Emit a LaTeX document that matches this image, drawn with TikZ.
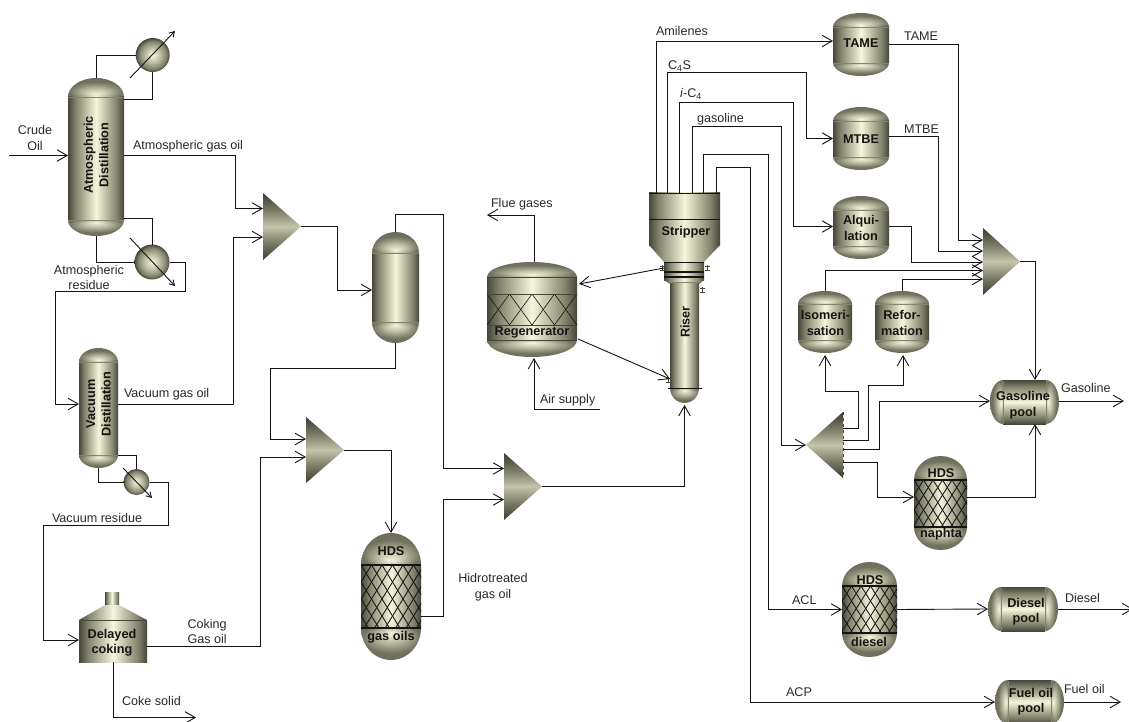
\documentclass[tikz,border=0pt]{standalone}
\usepackage{fontspec}
\setmainfont{Liberation Sans}
\usetikzlibrary{arrows.meta,calc}
\definecolor{mdark}{HTML}{46463A}
\definecolor{mmid}{HTML}{85856F}
\definecolor{msoft}{HTML}{C4C4AA}
\definecolor{mlight}{HTML}{F6F6DC}
\definecolor{ink}{HTML}{141414}
\definecolor{txt}{HTML}{2A2A2A}
\pgfdeclarehorizontalshading{metalH}{100bp}{color(0bp)=(mdark);color(25bp)=(mdark);color(32bp)=(mmid);color(42bp)=(msoft);color(50bp)=(mlight);color(58bp)=(msoft);color(68bp)=(mmid);color(75bp)=(mdark);color(100bp)=(mdark)}
\pgfdeclareverticalshading{metalV}{100bp}{color(0bp)=(mdark);color(25bp)=(mdark);color(33bp)=(mmid);color(43bp)=(msoft);color(50bp)=(mlight);color(57bp)=(msoft);color(67bp)=(mmid);color(75bp)=(mdark);color(100bp)=(mdark)}
\pgfdeclareverticalshading{metalT}{100bp}{color(0bp)=(mdark!85!black);color(25bp)=(mdark!85!black);color(38bp)=(mmid!85!mdark);color(50bp)=(msoft);color(62bp)=(mmid!85!mdark);color(75bp)=(mdark!85!black);color(100bp)=(mdark)}
\pgfdeclareradialshading{domeT}{\pgfpoint{0bp}{-18bp}}{color(0bp)=(mlight);color(10bp)=(msoft);color(24bp)=(mmid!70!mdark);color(43bp)=(mmid!50!mdark);color(50bp)=(mdark)}
\pgfdeclareradialshading{domeB}{\pgfpoint{0bp}{18bp}}{color(0bp)=(mlight);color(10bp)=(msoft);color(24bp)=(mmid!70!mdark);color(43bp)=(mmid!50!mdark);color(50bp)=(mdark)}
\pgfdeclareradialshading{domeL}{\pgfpoint{18bp}{0bp}}{color(0bp)=(mlight);color(10bp)=(msoft);color(24bp)=(mmid!70!mdark);color(43bp)=(mmid!50!mdark);color(50bp)=(mdark)}
\pgfdeclareradialshading{domeR}{\pgfpoint{-18bp}{0bp}}{color(0bp)=(mlight);color(10bp)=(msoft);color(24bp)=(mmid!70!mdark);color(43bp)=(mmid!50!mdark);color(50bp)=(mdark)}
\pgfdeclareradialshading{hxball}{\pgfpoint{0bp}{0bp}}{color(0bp)=(mlight);color(10bp)=(msoft);color(20bp)=(mmid);color(25bp)=(mdark);color(50bp)=(mdark)}
\tikzset{
  ln/.style={draw=ink,line width=.9pt,line join=miter},
  arr/.style={ln,-{Straight Barb[length=10pt,width=11.5pt,line width=.9pt]}},
  thinarr/.style={ln,-{Straight Barb[length=5pt,width=6pt,line width=.9pt]}},
  port/.style={inner sep=0pt,outer sep=0pt,rectangle},
  hx/.style={circle,inner sep=0pt,outer sep=0pt,shading=hxball},
  lbl/.style={inner sep=0pt,outer sep=0pt,text=txt,font=\fontsize{12.6}{15.5}\selectfont,align=center},
  lleft/.style={lbl,anchor=west,align=left},
  eq/.style={inner sep=0pt,outer sep=0pt,text=ink,font=\fontsize{12.7}{15.5}\selectfont\bfseries,align=center},
  seam/.style={draw=mmid,line width=.4pt},
  band/.style={draw=ink,line width=1.1pt}
}
% name x1 x2 top seam1 seam2 bottom
\newcommand{\vvessel}[7]{%
  \pgfmathsetmacro\vxc{(#2+#3)/2}%
  \pgfmathsetmacro\vkx{0.5523*(#3-#2)/2}%
  \pgfmathsetmacro\vkt{0.5523*(#5-#4)}%
  \pgfmathsetmacro\vkb{0.5523*(#7-#6)}%
  \shade[shading=domeT] (#2,#5) .. controls (#2,#5-\vkt) and (\vxc-\vkx,#4) .. (\vxc,#4) .. controls (\vxc+\vkx,#4) and (#3,#5-\vkt) .. (#3,#5) -- cycle;
  \shade[shading=domeB] (#2,#6) .. controls (#2,#6+\vkb) and (\vxc-\vkx,#7) .. (\vxc,#7) .. controls (\vxc+\vkx,#7) and (#3,#6+\vkb) .. (#3,#6) -- cycle;
  \shade[shading=metalH] (#2,#5) rectangle (#3,#6);
  \draw[seam] (#2,#5) -- (#3,#5) (#2,#6) -- (#3,#6);
  \node[port,minimum width=#3pt-#2pt,minimum height=#7pt-#4pt] (#1) at (\vxc,{(#4+#7)/2}) {};
}
% name x1 x2 y1 y2 seam1 seam2
\newcommand{\hpool}[7]{%
  \pgfmathsetmacro\vyc{(#4+#5)/2}%
  \pgfmathsetmacro\vkl{0.5523*(#6-#2)}%
  \pgfmathsetmacro\vkr{0.5523*(#3-#7)}%
  \pgfmathsetmacro\vky{0.5523*(#5-#4)/2}%
  \shade[shading=domeL] (#6,#4) .. controls (#6-\vkl,#4) and (#2,\vyc-\vky) .. (#2,\vyc) .. controls (#2,\vyc+\vky) and (#6-\vkl,#5) .. (#6,#5) -- cycle;
  \shade[shading=domeR] (#7,#4) .. controls (#7+\vkr,#4) and (#3,\vyc-\vky) .. (#3,\vyc) .. controls (#3,\vyc+\vky) and (#7+\vkr,#5) .. (#7,#5) -- cycle;
  \shade[shading=metalV] (#6,#4) rectangle (#7,#5);
  \draw[seam] (#6,#4) -- (#6,#5) (#7,#4) -- (#7,#5);
  \draw[line width=.8pt,draw=mdark] (#6,#4) -- (#7,#4) (#6,#5) -- (#7,#5);
  \node[port,minimum width=#3pt-#2pt,minimum height=#5pt-#4pt] (#1) at ({(#2+#3)/2},\vyc) {};
}
% name x1 x2 y1 y2
\newcommand{\mixer}[5]{%
  \shade[shading=metalT] (#2,#4) -- (#3,{(#4+#5)/2}) -- (#2,#5) -- cycle;
  \node[port,minimum width=#3pt-#2pt,minimum height=#5pt-#4pt] (#1) at ({(#2+#3)/2},{(#4+#5)/2}) {};
}
% x1 x2 y1 y2 cellw cellh : diamond mesh
\newcommand{\mesh}[6]{%
  \begin{scope}
    \clip (#1,#3) rectangle (#2,#4);
    \foreach \k in {-12,...,20}{
      \draw[draw=ink,line width=.85pt] ({#1+\k*#5},#3) -- ++({(#4-#3)*#5/#6},{#4-#3});
      \draw[draw=ink,line width=.85pt] ({#1+\k*#5},#3) -- ++({-(#4-#3)*#5/#6},{#4-#3});
    }
  \end{scope}
  \draw[band] (#1,#3) -- (#2,#3) (#1,#4) -- (#2,#4);
}
\newcommand{\nozzle}[2]{%
  \draw[draw=mdark,line width=.5pt] (#1-2.5,#2-2) -- (#1+2.5,#2-2) (#1-2.5,#2+2) -- (#1+2.5,#2+2) (#1,#2-3) -- (#1,#2+3);
}
\begin{document}
\begin{tikzpicture}[x=1pt,y=-1pt]
\clip (0,0) rectangle (1129,722);
\fill[white] (0,0) rectangle (1129,722);

% ---------- equipment ----------
\vvessel{atm}{68}{124}{78}{97}{220}{236}
\vvessel{vac}{79}{118}{348}{362}{455}{468}
\vvessel{vone}{372}{419}{232}{253}{322}{343}
\vvessel{hdsg}{361}{421}{533}{565}{628}{660}
\mesh{361}{421}{565}{628}{10.5}{17}
\vvessel{hdsd}{842}{897}{562}{586}{633}{657}
\mesh{842}{897}{586}{633}{9.5}{15}
\vvessel{hdsn}{914}{967}{456}{480}{527}{550}
\mesh{914}{967}{480}{527}{9.5}{15}
\vvessel{tame}{833}{889}{13}{27}{63}{76}
\vvessel{mtbe}{833}{889}{107}{121}{157}{170}
\vvessel{alq}{833}{889}{196}{210}{246}{259}
\vvessel{iso}{798}{852}{291}{304}{340}{353}
\vvessel{ref}{875}{929}{291}{304}{340}{353}

\hpool{gaspool}{990}{1059}{380}{424}{1003}{1046}
\hpool{diesel}{988}{1058}{587}{631}{1001}{1045}
\hpool{fuel}{995}{1064}{680}{724}{1008}{1051}

\mixer{mixa}{263}{301}{193}{260}
\mixer{mixb}{306}{344}{417}{483}
\mixer{mixc}{504}{542}{453}{520}
\mixer{mixg}{983}{1020}{228}{295}
% splitter cone
\shade[shading=metalT] (843,412) -- (806,445) -- (843,478) -- cycle;
\draw[draw=mdark,dashed,line width=.6pt] (843,412) -- (843,478);
\node[port,minimum width=37pt,minimum height=66pt] (split) at (824.5,445) {};

% exchangers
\node[hx,minimum size=34pt] (hxa) at (152.7,55) {};
\node[hx,minimum size=35pt] (hxb) at (152,262) {};
\node[hx,minimum size=26pt] (hxc) at (136.5,482) {};

% delayed coker
\shade[shading=metalH] (105,592) rectangle (119,606);
\shade[shading=metalH] (79,620) -- (105,605) -- (119,605) -- (147,620) -- cycle;
\shade[shading=metalH] (79,620) rectangle (147,662);
\draw[draw=mdark,line width=.6pt] (79,620) -- (147,620);
\node[port,minimum width=68pt,minimum height=42pt] (coker) at (113,641) {};

% regenerator
\vvessel{regen}{487}{577}{262}{277}{340}{357}
\foreach \i in {0,1,2,3}{
  \draw[draw=ink,line width=.6pt] ({487+\i*22.5},294) -- ({487+(\i+1)*22.5},325);
  \draw[draw=ink,line width=.6pt] ({487+(\i+1)*22.5},294) -- ({487+\i*22.5},325);
}
\draw[draw=mdark,line width=.9pt] (487,277) -- (577,277) (487,294) -- (577,294) (487,325) -- (577,325) (487,340) -- (577,340);

% stripper and riser
\shade[shading=metalH] (649,193) rectangle (720,245);
\draw[draw=ink,line width=.8pt] (649,193) -- (720,193) (649,219) -- (720,219) (649,245) -- (720,245);
\node[port,minimum width=71pt,minimum height=52pt] (strip) at (684.5,219) {};
\shade[shading=metalH] (649,245) -- (720,245) -- (704,262) -- (664,262) -- cycle;
\shade[shading=metalH] (664,262) rectangle (704,280);
\draw[draw=ink,line width=.8pt] (664,262) -- (704,262);
\draw[draw=ink,line width=1.3pt] (664,272) -- (704,272) (664,277) -- (704,277);
\node[port,minimum width=40pt,minimum height=18pt] (neck) at (684,271) {};
\shade[shading=metalH] (664,280) -- (704,280) -- (699,284) -- (670,284) -- cycle;
\vvessel{riser}{670}{699}{282}{282}{388}{403}
\draw[draw=ink,line width=.7pt] (667.5,388) -- (702,388);
\nozzle{662}{268}
\nozzle{707}{268}
\nozzle{702}{290}
\nozzle{668}{380}

% ---------- equipment labels ----------
\node[eq,rotate=90] (latm) at (96,155) {Atmospheric\\Distillation};
\node[eq,rotate=90] (lvac) at (98.5,404) {Vacuum\\Distillation};
\node[eq] (lcok) at (112,642.5) {Delayed\\coking};
\node[eq] (lhg1) at (391,551) {HDS};
\node[eq] (lhg2) at (391,637) {gas oils};
\node[eq] (lreg) at (532,332) {Regenerator};
\node[eq] (lstr) at (686,232) {Stripper};
\node[eq,rotate=90] (lris) at (685,322) {Riser};
\node[eq] (ltame) at (861,43) {TAME};
\node[eq] (lmtbe) at (861,139) {MTBE};
\node[eq] (lalq) at (861,228) {Alqui-\\lation};
\node[eq] (liso) at (825.5,323) {Isomeri-\\sation};
\node[eq] (lref) at (902,323) {Refor-\\mation};
\node[eq] (lgas) at (1023,405) {Gasoline\\pool};
\node[eq] (lhn1) at (941,473) {HDS};
\node[eq] (lhn2) at (941,534) {naphta};
\node[eq] (lhd1) at (870,580) {HDS};
\node[eq] (lhd2) at (869,642) {diesel};
\node[eq] (ldie) at (1026,611.5) {Diesel\\pool};
\node[eq] (lfue) at (1031,701.5) {Fuel oil\\pool};

% ---------- free ends ----------
\coordinate (crudeIn) at (9,155.5);
\coordinate (cokeEnd) at (196,717.5);
\coordinate (flueEnd) at (487,215);
\coordinate (airIn) at (600,409);
\coordinate (gasEnd) at (1124,401);
\coordinate (dieEnd) at (1133,609);
\coordinate (fuelEnd) at (1121,702);
\coordinate (hxaS) at (130,78);
\coordinate (hxaE) at (175,31);
\coordinate (hxbS) at (130,238);
\coordinate (hxbE) at (175,286);
\coordinate (hxcS) at (123,468);
\coordinate (hxcE) at (152,498);

% ---------- connectors ----------
\draw[arr] (crudeIn) -- ([yshift=1.5pt]atm.west);
\draw[ln] (atm.north) |- (hxa.west);
\draw[ln] (hxa.south) |- ([yshift=58pt]atm.east);
\draw[thinarr] (hxaS) -- (hxaE);
\draw[thinarr] (hxbS) -- (hxbE);
\draw[thinarr] (hxcS) -- (hxcE);
\draw[ln] ([yshift=-61pt]atm.east) -| (hxb.north);
\draw[ln] (atm.south) |- (hxb.west);
\draw[arr] (hxb.east) -| (185,291) -- (55,291) |- ([yshift=4pt]vac.west);
\draw[arr] ([yshift=1.5pt]atm.east) -| (235,208.5) -- ([yshift=18pt]mixa.west);
\draw[arr] ([yshift=4pt]vac.east) -| (233,237) -- ([yshift=-10.5pt]mixa.west);
\draw[ln] ([yshift=-47pt]vac.east) -| (hxc.north);
\draw[ln] (vac.south) |- (hxc.west);
\draw[arr] (hxc.east) -| (168,525) -- (43,525) |- ([yshift=1pt]coker.west);
\draw[arr] ([yshift=-5pt]coker.east) -| (260,457) -- ([yshift=-7pt]mixb.west);
\draw[arr] (coker.south) |- (cokeEnd);
\draw[arr] (mixa.east) -| (337,290) -- ([yshift=-2.5pt]vone.west);
\draw[arr] (vone.north) |- (443,214) |- ([yshift=18pt]mixc.west);
\draw[arr] (vone.south) |- (270,368) |- ([yshift=11pt]mixb.west);
\draw[arr] (mixb.east) -| (hdsg.north);
\draw[arr] ([yshift=-19.5pt]hdsg.east) -| (443.5,499.5) -- ([yshift=-13pt]mixc.west);
\draw[arr] (mixc.east) -| ([yshift=-2pt]riser.south);
\draw[arr] ([xshift=2pt]regen.north) |- (flueEnd);
\draw[arr] (airIn) -- (534,409) -- ([xshift=2pt,yshift=-1pt]regen.south);
\draw[arr] ([yshift=3pt]neck.west) -- ([xshift=2pt,yshift=25.5pt]regen.east);
\draw[arr] ([xshift=1pt,yshift=-29.5pt]regen.east) -- ([yshift=-36.5pt]riser.west);
\draw[arr] ([xshift=-28.5pt]strip.north) |- ([yshift=3.5pt]tame.west);
\draw[arr] ([xshift=-17.5pt]strip.north) |- (806,72) |- (mtbe.west);
\draw[arr] ([xshift=-5.5pt]strip.north) |- (793,102) |- ([yshift=1pt]alq.west);
\draw[arr] ([xshift=7.5pt]strip.north) |- (781,126) |- (split.west);
\draw[arr] ([xshift=18.5pt]strip.north) |- (768,154) |- (hdsd.west);
\draw[arr] ([xshift=31.5pt]strip.north) |- (750,167) |- (fuel.west);
\draw[arr] ([yshift=0.5pt]tame.east) -| (958,240) -- ([yshift=21.5pt]mixg.west);
\draw[arr] ([yshift=2.5pt]mtbe.east) -| (938,251) -- ([yshift=10.5pt]mixg.west);
\draw[arr] ([yshift=1.5pt]alq.east) -| (911,262) -- ([yshift=-0.5pt]mixg.west);
\draw[arr] (iso.north) |- ([yshift=-9pt]mixg.west);
\draw[arr] (ref.north) |- ([yshift=-17.5pt]mixg.west);
\draw[arr] (mixg.east) -| ([xshift=10.5pt]gaspool.north);
\draw[arr] ([yshift=17pt]split.east) -| (858,391) -| ([yshift=-2pt]iso.south);
\draw[arr] ([yshift=5pt]split.east) -| (868,385) -| ([xshift=1pt,yshift=-2pt]ref.south);
\draw[arr] ([yshift=-4pt]split.east) -| (879,401) -- ([yshift=1pt]gaspool.west);
\draw[arr] ([yshift=-17pt]split.east) -| (877,497) -- ([yshift=6pt]hdsn.west);
\draw[arr] ([yshift=6pt]hdsn.east) -| ([xshift=10.5pt]gaspool.south);
\draw[arr] ([yshift=1pt]gaspool.east) -- (gasEnd);
\draw[arr] (hdsd.east) -- (diesel.west);
\draw[arr] (diesel.east) -- (dieEnd);
\draw[arr] (fuel.east) -- (fuelEnd);

% ---------- stream labels ----------
\node[lbl] (tcrude) at (35,138) {Crude\\Oil};
\node[lleft] (tago) at (133,146) {Atmospheric gas oil};
\node[lbl] (tar) at (89,277.5) {Atmospheric\\residue};
\node[lleft] (tvgo) at (124,394) {Vacuum gas oil};
\node[lleft] (tvr) at (52,517.5) {Vacuum residue};
\node[lleft] (tcgo) at (187.5,631.5) {Coking\\Gas oil};
\node[lleft] (tcoke) at (122,700.5) {Coke solid};
\node[lbl] (thgo) at (493,587) {Hidrotreated\\gas oil};
\node[lleft] (tflue) at (491,204.5) {Flue gases};
\node[lleft] (tair) at (540,400) {Air supply};
\node[lleft] (tami) at (656,30.5) {Amilenes};
\node[lleft] (tc4s) at (668,66) {C\textsubscript{4}S};
\node[lleft] (tic4) at (680,93.5) {\textit{i}-C\textsubscript{4}};
\node[lleft] (tgsl) at (697,119.5) {gasoline};
\node[lleft] (ttame) at (904,36.5) {TAME};
\node[lleft] (tmtbe) at (904,129) {MTBE};
\node[lleft] (tgas) at (1061,388) {Gasoline};
\node[lleft] (tacl) at (792,600) {ACL};
\node[lleft] (tdie) at (1065,598) {Diesel};
\node[lleft] (tacp) at (786,692.5) {ACP};
\node[lleft] (tfue) at (1064,689) {Fuel oil};
\end{tikzpicture}
\end{document}
